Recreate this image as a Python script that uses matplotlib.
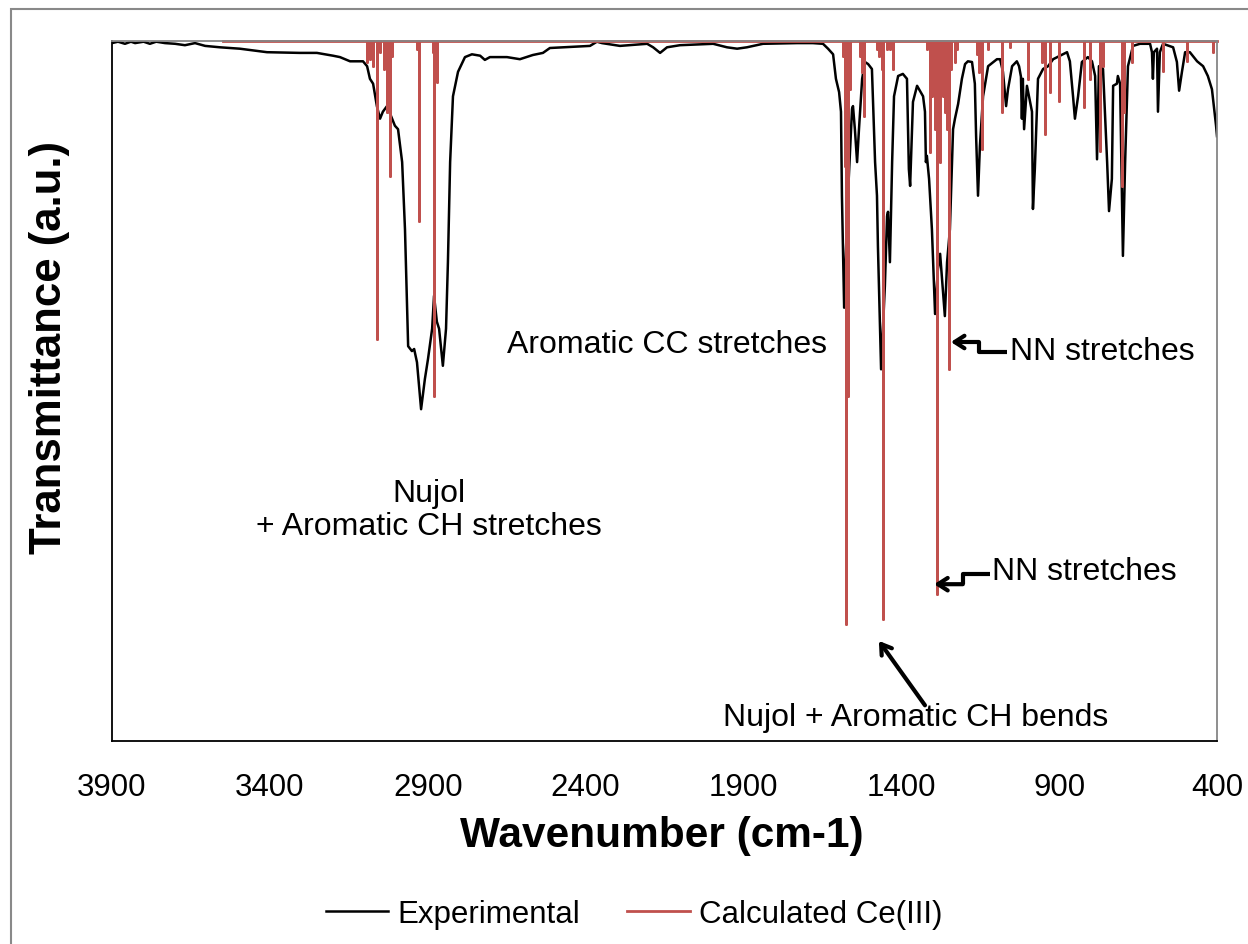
import numpy as np
import matplotlib
matplotlib.use("Agg")
import matplotlib.pyplot as plt
import matplotlib.patches as patches

plt.rcParams['font.family'] = ['Liberation Sans', 'DejaVu Sans']

# experimental spectrum (wavenumber cm-1, transmittance a.u.)
exp_wn = [3900, 3881, 3859, 3840, 3827, 3800, 3780, 3760, 3732, 3700, 3669, 3637, 3605, 3558,
          3495, 3409, 3305, 3251, 3200, 3178, 3146, 3137, 3105, 3092, 3083, 3073, 3061, 3051,
          3042, 3029, 3019, 3004, 2994, 2981, 2972, 2962, 2950, 2943, 2934, 2921, 2909, 2899,
          2886, 2880, 2871, 2864, 2852, 2842, 2836, 2829, 2820, 2804, 2782, 2760, 2734, 2719,
          2703, 2649, 2608, 2567, 2535, 2513, 2472, 2386, 2364, 2348, 2291, 2205, 2186, 2164,
          2142, 2101, 1996, 1952, 1920, 1889, 1838, 1730, 1680, 1648, 1632, 1616, 1607, 1597,
          1591, 1588, 1581, 1575, 1569, 1556, 1553, 1547, 1540, 1534, 1524, 1515, 1505, 1493,
          1490, 1483, 1477, 1474, 1464, 1452, 1445, 1442, 1436, 1429, 1423, 1410, 1395, 1382,
          1376, 1372, 1366, 1363, 1350, 1341, 1331, 1325, 1322, 1319, 1312, 1303, 1293, 1284,
          1277, 1271, 1262, 1255, 1246, 1236, 1230, 1220, 1208, 1198, 1189, 1176, 1167, 1163,
          1157, 1151, 1141, 1125, 1097, 1087, 1078, 1068, 1062, 1049, 1034, 1027, 1021, 1018,
          1015, 1011, 1002, 992, 986, 983, 977, 967, 951, 935, 919, 897, 875, 866, 856, 850,
          840, 828, 809, 796, 786, 780, 774, 761, 748, 742, 733, 729, 717, 714, 707, 698, 691,
          682, 666, 644, 612, 606, 603, 600, 590, 587, 581, 571, 539, 527, 520, 511, 501, 486,
          463, 444, 429, 416, 410, 403, 400]
exp_t = [99.7, 99.9, 99.6, 99.9, 99.7, 99.9, 99.6, 99.9, 99.7, 99.6, 99.4, 99.7, 99.3, 99.1,
         98.9, 98.4, 98.3, 98.3, 97.9, 97.7, 97.1, 97.1, 97.1, 96.4, 94.6, 93.9, 90.7, 88.9,
         89.9, 90.7, 89.6, 87.9, 87.4, 82.7, 73.1, 56.4, 55.7, 56.0, 54.1, 47.4, 51.7, 54.6,
         58.9, 63.6, 59.9, 58.9, 53.6, 58.9, 68.4, 82.7, 92.1, 95.6, 97.7, 98.1, 97.9, 97.3,
         97.7, 97.7, 97.4, 98.0, 98.3, 99.0, 99.1, 99.3, 99.9, 99.7, 99.3, 99.6, 99.1, 98.3,
         99.1, 99.4, 99.6, 99.1, 98.9, 99.1, 99.6, 99.7, 99.7, 99.6, 98.9, 98.1, 94.6, 92.7,
         89.9, 77.9, 61.9, 70.3, 77.9, 90.3, 90.7, 87.4, 82.7, 87.4, 94.6, 97.0, 96.7, 96.0,
         92.1, 82.7, 77.9, 70.7, 53.1, 65.0, 75.0, 75.6, 68.4, 82.7, 92.1, 95.0, 95.3, 94.6,
         81.7, 79.3, 87.4, 91.3, 93.6, 92.9, 92.1, 89.9, 82.7, 83.6, 80.3, 73.1, 61.0, 67.4,
         69.6, 66.0, 60.7, 68.4, 73.1, 87.4, 88.9, 91.0, 94.6, 96.7, 97.1, 97.0, 93.9, 86.4,
         77.9, 85.0, 92.1, 96.4, 97.4, 97.4, 95.6, 90.7, 93.1, 96.4, 97.1, 96.4, 94.9, 88.9,
         94.6, 87.4, 93.6, 91.3, 89.9, 76.0, 81.7, 94.6, 96.0, 96.4, 97.4, 97.9, 98.4, 97.1,
         92.1, 88.9, 92.1, 97.0, 97.7, 97.1, 95.0, 83.1, 96.4, 96.0, 82.7, 75.7, 80.3, 93.6,
         93.9, 95.0, 93.9, 69.3, 82.7, 96.4, 99.3, 99.6, 99.6, 98.4, 94.6, 98.4, 98.9, 89.9,
         98.4, 99.6, 99.1, 97.0, 92.9, 95.6, 98.4, 98.4, 97.1, 96.4, 95.0, 93.1, 90.7, 87.9,
         86.4]

# calculated Ce(III) spectrum: band positions and tip heights
calc_wn = [3092, 3083, 3073, 3061, 3051, 3038, 3029, 3019, 3013, 2934, 2928, 2883, 2880, 2871,
           1585, 1578, 1575, 1569, 1562, 1531, 1524, 1518, 1477, 1471, 1461, 1458, 1445, 1436,
           1426, 1319, 1309, 1303, 1293, 1287, 1277, 1268, 1262, 1255, 1249, 1243, 1230, 1224,
           1160, 1154, 1144, 1125, 1081, 1056, 999, 954, 945, 929, 901, 821, 802, 771, 761,
           701, 695, 669, 571, 495, 413]
calc_t = [97.0, 97.4, 96.4, 57.4, 98.4, 96.0, 89.9, 80.7, 97.9, 98.9, 74.3, 98.4, 49.3, 94.1,
          97.9, 82.1, 16.7, 49.3, 93.1, 97.9, 95.6, 89.3, 98.9, 97.9, 96.0, 17.4, 98.9, 98.9,
          96.0, 98.9, 84.1, 92.1, 87.4, 21.0, 82.7, 92.1, 89.9, 87.4, 53.1, 96.0, 97.0, 98.9,
          98.1, 95.6, 84.6, 98.9, 89.9, 99.1, 94.6, 97.0, 86.7, 92.7, 91.4, 90.6, 94.6, 84.3,
          96.4, 79.3, 89.9, 97.0, 95.7, 97.1, 98.4]
calc_start = 3550
calc_end = 400

labels = ["Experimental", "Calculated Ce(III)"]
colors = ["#000000", "#C0504D"]

# build the stick trace of the calculated spectrum
cx = [calc_start]
cy = [100]
for w, t in zip(calc_wn, calc_t):
    cx += [w, w, w]
    cy += [100, t, 100]
cx.append(calc_end)
cy.append(100)

fig = plt.figure(figsize=(12.48, 9.45), dpi=100)
ax = fig.add_axes([112 / 1248, 1 - 742 / 945, 1105 / 1248, 700 / 945])

ax.plot(exp_wn, exp_t, color=colors[0], lw=1.8, label=labels[0])
ax.plot(cx, cy, color=colors[1], lw=2.0, label=labels[1], clip_on=False)

ax.set_xlim(3900, 400)
ax.set_ylim(0, 100)
ax.set_xticks(np.arange(3900, 399, -500))
ax.set_yticks([])
ax.tick_params(axis='x', length=0, pad=22, labelsize=22.5)
for s in ['left', 'bottom']:
    ax.spines[s].set_color('black')
    ax.spines[s].set_linewidth(1.3)
for s in ['top', 'right']:
    ax.spines[s].set_color('#868686')
    ax.spines[s].set_linewidth(1.3)

fig.text(662 / 1248, 1 - 836 / 945, "Wavenumber (cm-1)", fontsize=30.5, fontweight='bold',
         ha='center', va='center')
fig.text(50 / 1248, 1 - 347 / 945, "Transmittance (a.u.)", fontsize=31.5, fontweight='bold',
         ha='center', va='center', rotation=90)

# annotations
ax.text(2142, 56.7, "Aromatic CC stretches", fontsize=23, ha='center', va='center')
ax.text(2896, 33.1, "Nujol\n+ Aromatic CH stretches", fontsize=23, ha='center', va='center',
        linespacing=1.15)
ax.text(1056, 55.7, "NN stretches", fontsize=23, ha='left', va='center')
ax.text(1113, 24.3, "NN stretches", fontsize=23, ha='left', va='center')
ax.text(1353, 3.4, "Nujol + Aromatic CH bends", fontsize=23, ha='center', va='center')

arrow_kw = dict(arrowstyle='->, head_length=0.7, head_width=0.45', color='black', lw=3,
                shrinkA=0, shrinkB=0)
ax.plot([1065, 1154, 1154], [55.6, 55.6, 57.0], color='black', lw=3, solid_capstyle='butt')
ax.annotate("", xy=(1243, 57.0), xytext=(1154, 57.0), arrowprops=arrow_kw)
ax.plot([1119, 1205, 1205], [23.9, 23.9, 22.4], color='black', lw=3, solid_capstyle='butt')
ax.annotate("", xy=(1296, 22.4), xytext=(1205, 22.4), arrowprops=arrow_kw)
ax.annotate("", xy=(1471, 14.3), xytext=(1325, 5.1), arrowprops=arrow_kw)

fig.legend(loc='center', bbox_to_anchor=(634 / 1248, 1 - 915 / 945), ncol=2, frameon=False,
           fontsize=22.5, handlelength=2.0, handletextpad=0.3, columnspacing=1.5)

# outer chart frame
fig.patches.append(patches.Rectangle((11 / 1248, -0.1), 1.2, 1.1 - 10 / 945, fill=False,
                                     edgecolor='#898989', lw=1.5, transform=fig.transFigure))

fig.savefig("out.png", dpi=100)
